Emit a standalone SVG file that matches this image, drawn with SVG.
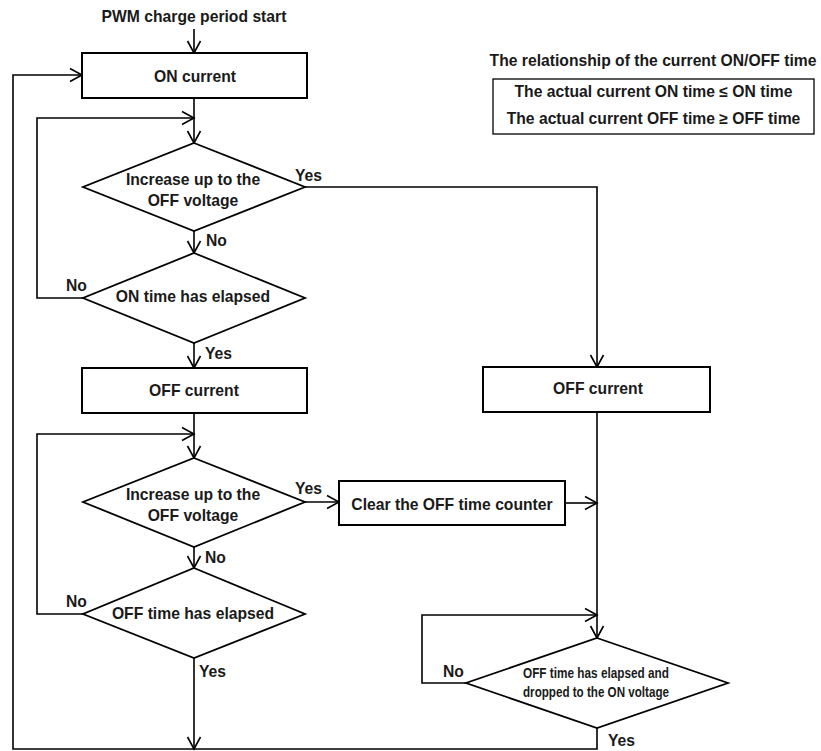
<svg xmlns="http://www.w3.org/2000/svg" width="821" height="751" viewBox="0 0 821 751">
<defs>
<marker id="arr" viewBox="-14 -8 16 16" markerWidth="16" markerHeight="16" refX="0" refY="0" orient="auto" markerUnits="userSpaceOnUse">
<path d="M-12,-6.5 L0,0 L-12,6.5" fill="none" stroke="#000" stroke-width="1.6"/>
</marker>
<style>
.box{fill:#fff;stroke:#000;stroke-width:2}
.dia{fill:#fff;stroke:#000;stroke-width:1.8}
.ln{fill:none;stroke:#000;stroke-width:1.6}
.ar{fill:none;stroke:#000;stroke-width:1.6;marker-end:url(#arr)}
text{font-family:"Liberation Sans",Arial,sans-serif;font-weight:bold;font-size:15.7px;fill:#1a1a1a}
.c{text-anchor:middle}
.sm{font-size:15px}
</style>
</defs>
<rect width="821" height="751" fill="#fff"/>
<g id="connectors">
<path class="ar" d="M194,29 V53"/>
<path class="ar" d="M194,98 V143"/>
<path class="ar" d="M194,231 V253"/>
<path class="ar" d="M83,298 H37 V118 H194"/>
<path class="ar" d="M305,187 H597 V367"/>
<path class="ar" d="M194,343 V368"/>
<path class="ar" d="M194,413 V458"/>
<path class="ar" d="M83,614 H37 V434 H194"/>
<path class="ar" d="M305,502 H339"/>
<path class="ar" d="M194,547 V568"/>
<path class="ar" d="M565,503 H597"/>
<path class="ar" d="M597,412 V638"/>
<path class="ar" d="M466,683 H422 V615 H597"/>
<path class="ar" d="M194,658 V749"/>
<path class="ar" d="M597,728 V749 H13 V75 H82"/>
</g>
<g id="start"><text class="c" x="194" y="22">PWM charge period start</text></g>
<g id="on-current">
<rect class="box" x="82" y="53" width="225" height="45"/>
<text class="c" x="195" y="82">ON current</text>
</g>
<g id="dec-increase-1">
<polygon class="dia" points="194,143 305,187 194,231 83,187"/>
<text class="c" x="193" y="185">Increase up to the</text>
<text class="c" x="193" y="206">OFF voltage</text>
<text x="295" y="181">Yes</text>
<text x="206" y="246">No</text>
</g>
<g id="dec-on-time">
<polygon class="dia" points="194,253 305,298 194,343 83,298"/>
<text class="c" x="193" y="302">ON time has elapsed</text>
<text x="66" y="291">No</text>
<text x="205" y="359">Yes</text>
</g>
<g id="off-current-1">
<rect class="box" x="82" y="368" width="225" height="45"/>
<text class="c" x="194" y="396">OFF current</text>
</g>
<g id="dec-increase-2">
<polygon class="dia" points="194,458 305,502 194,547 83,502"/>
<text class="c" x="193" y="500">Increase up to the</text>
<text class="c" x="193" y="521">OFF voltage</text>
<text x="295" y="494">Yes</text>
<text x="205" y="563">No</text>
</g>
<g id="clear-counter">
<rect class="box" x="339" y="481" width="226" height="44"/>
<text class="c" x="452" y="510">Clear the OFF time counter</text>
</g>
<g id="dec-off-time">
<polygon class="dia" points="194,568 305,614 194,658 83,614"/>
<text class="c" x="193" y="619">OFF time has elapsed</text>
<text x="66" y="607">No</text>
<text x="199" y="677">Yes</text>
</g>
<g id="off-current-2">
<rect class="box" x="483" y="367" width="227" height="45"/>
<text class="c" x="598" y="394">OFF current</text>
</g>
<g id="dec-off-on">
<polygon class="dia" points="597,638 728,683 597,728 466,683"/>
<text class="c sm" x="596" y="678" textLength="146" lengthAdjust="spacingAndGlyphs">OFF time has elapsed and</text>
<text class="c sm" x="596" y="697" textLength="146" lengthAdjust="spacingAndGlyphs">dropped to the ON voltage</text>
<text x="443" y="677">No</text>
<text x="608" y="746">Yes</text>
</g>
<g id="relationship">
<text class="c" x="653" y="66">The relationship of the current ON/OFF time</text>
<rect x="493" y="79" width="321" height="55" fill="#fff" stroke="#000" stroke-width="1.3"/>
<text class="c" x="653.5" y="97">The actual current ON time ≤ ON time</text>
<text class="c" x="653.5" y="124">The actual current OFF time ≥ OFF time</text>
</g>
</svg>
